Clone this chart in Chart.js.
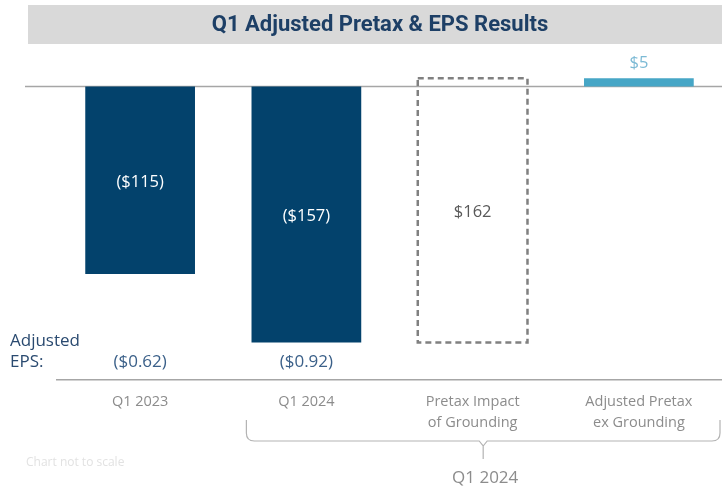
<!DOCTYPE html>
<html>
<head>
<meta charset="utf-8">
<script src="https://cdn.jsdelivr.net/npm/chart.js@4.4.1/dist/chart.umd.min.js"></script>
<style>
  html, body { margin: 0; padding: 0; background: #ffffff; }
  #wrap { width: 722px; height: 493px; position: relative; }
</style>
</head>
<body>
<div id="wrap"><canvas id="pretaxChart" width="722" height="493"></canvas></div>
<script>
// Chart data
const categories = ['Q1 2023', 'Q1 2024', ['Pretax Impact', 'of Grounding'], ['Adjusted Pretax', 'ex Grounding']];
const barStart = [0, 0, -157, 0];
const barEnd = [-115, -157, 5, 5];
const barLabels = ['($115)', '($157)', '$162', '$5'];
const epsLabels = ['($0.62)', '($0.92)', '', ''];

const barColors = ['#03426c', '#03426c', 'rgba(0,0,0,0)', '#46a6c6'];
const labelColors = ['#ffffff', '#ffffff', '#595959', '#7cbad5'];
const FONT = "'Open Sans', 'Liberation Sans', sans-serif";

// Extra drawing: title band, zero line, labels, dashed box, bracket
const decorPlugin = {
  id: 'decor',
  beforeDatasetsDraw(chart) {
    const { ctx, chartArea, scales } = chart;
    const y0 = scales.y.getPixelForValue(0);
    ctx.save();
    // title band
    ctx.fillStyle = '#d9d9d9';
    ctx.fillRect(28, 5, 694, 39);
    ctx.fillStyle = '#1d3f66';
    ctx.font = "bold 22px Roboto, sans-serif";
    ctx.textAlign = 'center';
    ctx.textBaseline = 'middle';
    ctx.fillText('Q1 Adjusted Pretax & EPS Results', 380, 25);
    // zero line
    ctx.strokeStyle = '#a6a6a6';
    ctx.lineWidth = 1.5;
    ctx.beginPath();
    ctx.moveTo(25, y0);
    ctx.lineTo(chartArea.right, y0);
    ctx.stroke();
    ctx.restore();
  },
  afterDatasetsDraw(chart) {
    const { ctx, chartArea, scales } = chart;
    const bars = chart.getDatasetMeta(0).data;
    ctx.save();

    // dashed box for the impact bar
    const box = bars[2];
    ctx.strokeStyle = '#808080';
    ctx.lineWidth = 2.5;
    ctx.setLineDash([6, 4]);
    ctx.strokeRect(box.x - box.width / 2, Math.min(box.y, box.base), box.width, Math.abs(box.base - box.y));
    ctx.setLineDash([]);

    // bar value labels
    ctx.font = '16.5px ' + FONT;
    ctx.textAlign = 'center';
    ctx.textBaseline = 'middle';
    bars.forEach((bar, i) => {
      ctx.fillStyle = labelColors[i];
      const h = Math.abs(bar.base - bar.y);
      const ly = h < 20 ? Math.min(bar.y, bar.base) - 15 : (bar.y + bar.base) / 2 + 2;
      ctx.fillText(barLabels[i], bar.x, ly);
    });

    // EPS row
    ctx.font = '17px ' + FONT;
    ctx.fillStyle = '#3b6089';
    bars.forEach((bar, i) => {
      if (epsLabels[i]) ctx.fillText(epsLabels[i], bar.x, chartArea.bottom - 18);
    });
    ctx.textAlign = 'left';
    ctx.fillStyle = '#2a4a70';
    ctx.fillText('Adjusted', 10, chartArea.bottom - 39);
    ctx.fillText('EPS:', 10, chartArea.bottom - 18);

    // bracket under Q1 2024 categories
    const left = scales.x.getPixelForValue(1) - 60;
    const right = chartArea.right - 2;
    const mid = (left + right) / 2;
    const top = chartArea.bottom + 40;
    const by = chartArea.bottom + 61;
    const r = 8;
    ctx.strokeStyle = '#b3b3b3';
    ctx.lineWidth = 1.2;
    ctx.beginPath();
    ctx.moveTo(left, top);
    ctx.lineTo(left, by - r);
    ctx.quadraticCurveTo(left, by, left + r, by);
    ctx.lineTo(mid - 4, by);
    ctx.lineTo(mid, by + 5);
    ctx.lineTo(mid, by + 18);
    ctx.moveTo(mid, by + 5);
    ctx.lineTo(mid + 4, by);
    ctx.lineTo(right - r, by);
    ctx.quadraticCurveTo(right, by, right, by - r);
    ctx.lineTo(right, top);
    ctx.stroke();

    ctx.textAlign = 'center';
    ctx.fillStyle = '#8c8c8c';
    ctx.font = '17px ' + FONT;
    ctx.fillText('Q1 2024', mid + 2, chartArea.bottom + 98);

    ctx.textAlign = 'left';
    ctx.fillStyle = '#e2e2e2';
    ctx.font = '12px ' + FONT;
    ctx.fillText('Chart not to scale', 26, chartArea.bottom + 83);
    ctx.restore();
  }
};

const ctx = document.getElementById('pretaxChart').getContext('2d');
new Chart(ctx, {
  type: 'bar',
  data: {
    labels: categories,
    datasets: [{
      label: 'Adjusted Pretax',
      data: barStart.map((s, i) => [s, barEnd[i]]),
      backgroundColor: barColors,
      borderWidth: 0,
      borderSkipped: false,
      categoryPercentage: 1,
      barPercentage: 0.66
    }]
  },
  options: {
    responsive: false,
    animation: false,
    layout: { padding: { top: 37.6, left: 57, right: 0, bottom: 0 } },
    plugins: {
      legend: { display: false },
      tooltip: { enabled: false }
    },
    scales: {
      x: {
        grid: { display: false, drawTicks: false },
        border: { display: true, color: '#a6a6a6', width: 1.5 },
        ticks: {
          color: '#8c8c8c',
          padding: 11,
          maxRotation: 0,
          font: { family: FONT, size: 14.5, lineHeight: 1.45 }
        },
        afterFit(scale) { scale.height = 113; }
      },
      y: {
        display: false,
        min: -180,
        max: 30
      }
    }
  },
  plugins: [decorPlugin]
});
</script>
</body>
</html>
